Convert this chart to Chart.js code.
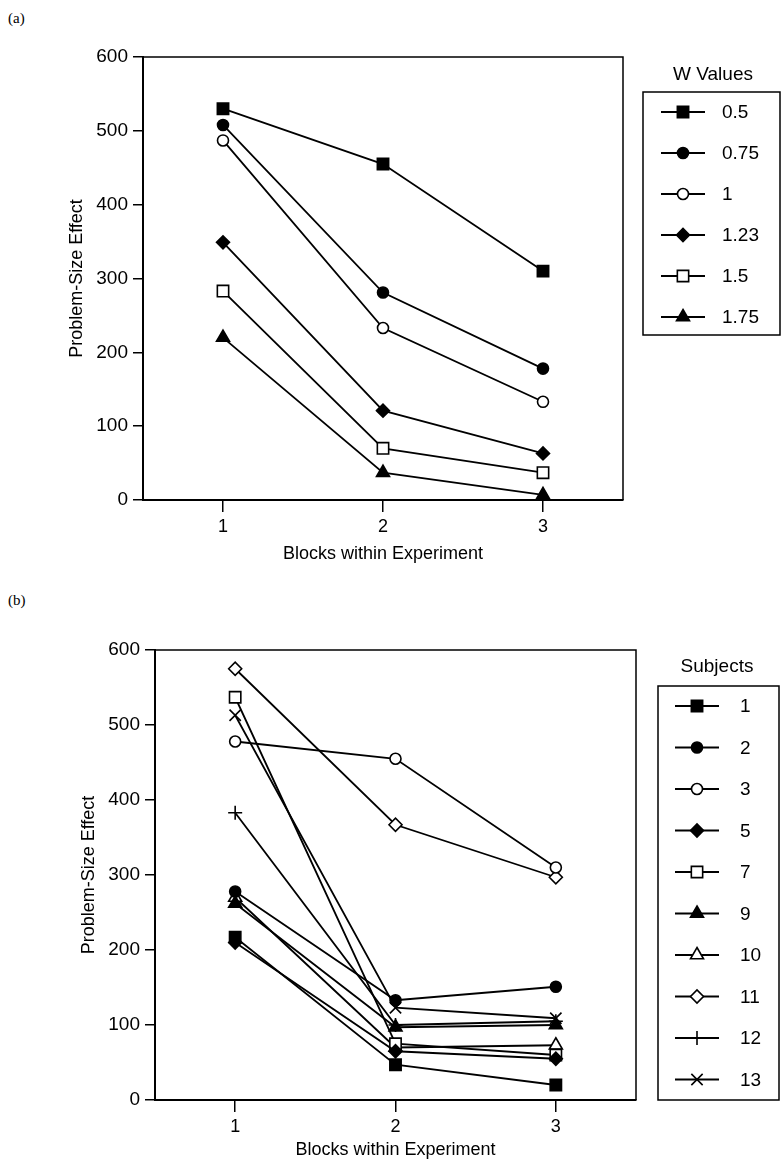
<!DOCTYPE html>
<html><head><meta charset="utf-8">
<script src="https://cdn.jsdelivr.net/npm/chart.js@4/dist/chart.umd.min.js"></script>
<style>
html,body{margin:0;padding:0;background:#fff}
body{width:781px;height:1161px;position:relative;overflow:hidden}
canvas{position:absolute;left:0}
#ca{top:0}
#cb{top:580px}
.pl{position:absolute;font-family:"Liberation Serif","DejaVu Serif",serif;font-size:15px;color:#000}
</style></head><body>
<div class="pl" style="left:8px;top:10px">(a)</div>
<div class="pl" style="left:8px;top:592px">(b)</div>
<canvas id="ca" width="781" height="580"></canvas>
<canvas id="cb" width="781" height="600"></canvas>
<script>
// ---- data ----
const blocks = [1, 2, 3];
const yTickValues = [0, 100, 200, 300, 400, 500, 600];

const wLabels = ['0.5', '0.75', '1', '1.23', '1.5', '1.75'];
const w050 = [530, 455, 310];
const w075 = [508, 281, 178];
const w100 = [487, 233, 133];
const w123 = [349, 121, 63];
const w150 = [283, 70, 37];
const w175 = [220, 37, 7];

const subjectLabels = ['1', '2', '3', '5', '7', '9', '10', '11', '12', '13'];
const s1 = [217, 47, 20];
const s2 = [278, 133, 151];
const s3 = [478, 455, 310];
const s5 = [210, 65, 55];
const s7 = [537, 75, 60];
const s9 = [262, 97, 100];
const s10 = [270, 70, 73];
const s11 = [575, 367, 297];
const s12 = [383, 100, 105];
const s13 = [513, 123, 109];

// ---- marker styles ----
const MK = {
  sqF:  {style: 'rect', r: 8, fill: '#000'},
  sqO:  {style: 'rect', r: 8, fill: '#fff'},
  ciF:  {style: 'circle', r: 5.5, fill: '#000'},
  ciO:  {style: 'circle', r: 5.5, fill: '#fff'},
  diF:  {style: 'rectRot', r: 6.5, fill: '#000'},
  diO:  {style: 'rectRot', r: 6.5, fill: '#fff'},
  trF:  {style: 'triangle', r: 7.5, fill: '#000'},
  trO:  {style: 'triangle', r: 7.5, fill: '#fff'},
  plus: {style: 'cross', r: 7, fill: '#000'},
  ex:   {style: 'crossRot', r: 8, fill: '#000'}
};

function ds(label, values, mk) {
  return {
    label: label,
    data: blocks.map((b, i) => ({x: b, y: values[i]})),
    borderColor: '#000',
    borderWidth: 1.8,
    pointStyle: mk.style,
    pointRadius: mk.r,
    pointHoverRadius: mk.r,
    pointBackgroundColor: mk.fill,
    pointBorderColor: '#000',
    pointBorderWidth: 1.6,
    fill: false,
    tension: 0,
    clip: false
  };
}

const FONT = "'Liberation Sans', Arial, sans-serif";

const framePlugin = {
  id: 'frame',
  afterDatasetsDraw(chart) {
    const {ctx, chartArea: a} = chart;
    ctx.save();
    ctx.strokeStyle = '#000';
    ctx.lineWidth = 1.5;
    ctx.beginPath();
    ctx.moveTo(a.left, a.top);
    ctx.lineTo(a.right, a.top);
    ctx.lineTo(a.right, a.bottom);
    ctx.stroke();
    ctx.restore();
  }
};

const legendBoxPlugin = {
  id: 'legendBox',
  afterDraw(chart, args, o) {
    const ctx = chart.ctx;
    ctx.save();
    ctx.fillStyle = '#000';
    ctx.font = o.fontSize + 'px ' + FONT;
    ctx.textAlign = 'center';
    ctx.textBaseline = 'middle';
    ctx.fillText(o.title, o.titleX, o.titleY);
    ctx.strokeStyle = '#000';
    ctx.lineWidth = 1.5;
    ctx.strokeRect(o.box[0], o.box[1], o.box[2] - o.box[0], o.box[3] - o.box[1]);
    chart.data.datasets.forEach((d, i) => {
      const y = o.y0 + i * o.dy;
      ctx.lineWidth = 1.8;
      ctx.strokeStyle = '#000';
      ctx.beginPath();
      ctx.moveTo(o.mx - o.half, y);
      ctx.lineTo(o.mx + o.half, y);
      ctx.stroke();
      ctx.fillStyle = d.pointBackgroundColor;
      ctx.lineWidth = 1.6;
      Chart.helpers.drawPoint(ctx, {pointStyle: d.pointStyle, radius: d.pointRadius, rotation: 0, borderWidth: 1.6}, o.mx, y);
      ctx.fillStyle = '#000';
      ctx.textAlign = 'left';
      ctx.fillText(d.label, o.lx, y + 1);
    });
    ctx.restore();
  }
};

function makeChart(id, datasets, geo, legend) {
  return new Chart(document.getElementById(id), {
    type: 'line',
    data: {datasets: datasets},
    plugins: [framePlugin, legendBoxPlugin],
    options: {
      responsive: false,
      animation: false,
      events: [],
      layout: {padding: {left: geo.padL, top: geo.padT, right: geo.padR, bottom: geo.padB}},
      plugins: {legend: {display: false}, tooltip: {enabled: false}, legendBox: legend},
      scales: {
        x: {
          type: 'linear', min: 0.5, max: 3.5,
          afterBuildTicks: s => { s.ticks = blocks.map(v => ({value: v})); },
          afterFit: s => { s.height = geo.xH; },
          grid: {drawOnChartArea: false, drawTicks: true, tickLength: 12, color: '#000', lineWidth: 1.5},
          border: {display: true, color: '#000', width: 2},
          ticks: {color: '#000', padding: 4, font: {family: FONT, size: 18}, callback: v => String(v)},
          title: {display: true, text: 'Blocks within Experiment', color: '#000', padding: 0, font: {family: FONT, size: 18}}
        },
        y: {
          type: 'linear', min: 0, max: 600,
          afterBuildTicks: s => { s.ticks = yTickValues.map(v => ({value: v})); },
          afterFit: s => { s.width = geo.yW; },
          grid: {drawOnChartArea: false, drawTicks: true, tickLength: 10, color: '#000', lineWidth: 1.5},
          border: {display: true, color: '#000', width: 2},
          ticks: {color: '#000', padding: 5, font: {family: FONT, size: 19}, callback: v => String(v)},
          title: {display: true, text: 'Problem-Size Effect', color: '#000', padding: 0, font: {family: FONT, size: 18}}
        }
      }
    }
  });
}

makeChart('ca', [
  ds(wLabels[0], w050, MK.sqF),
  ds(wLabels[1], w075, MK.ciF),
  ds(wLabels[2], w100, MK.ciO),
  ds(wLabels[3], w123, MK.diF),
  ds(wLabels[4], w150, MK.sqO),
  ds(wLabels[5], w175, MK.trF)
], {padL: 66, yW: 77, padT: 57, padR: 158, padB: 15, xH: 65},
{title: 'W Values', titleX: 713, titleY: 75, box: [643, 92, 780, 335], y0: 112, dy: 41, mx: 683, half: 22, lx: 722, fontSize: 19});

makeChart('cb', [
  ds(subjectLabels[0], s1, MK.sqF),
  ds(subjectLabels[1], s2, MK.ciF),
  ds(subjectLabels[2], s3, MK.ciO),
  ds(subjectLabels[3], s5, MK.diF),
  ds(subjectLabels[4], s7, MK.sqO),
  ds(subjectLabels[5], s9, MK.trF),
  ds(subjectLabels[6], s10, MK.trO),
  ds(subjectLabels[7], s11, MK.diO),
  ds(subjectLabels[8], s12, MK.plus),
  ds(subjectLabels[9], s13, MK.ex)
], {padL: 78, yW: 77, padT: 70, padR: 145, padB: 19, xH: 61},
{title: 'Subjects', titleX: 717, titleY: 87, box: [658, 106, 779, 520], y0: 126, dy: 41.5, mx: 697, half: 22, lx: 740, fontSize: 19});
</script>
</body></html>
